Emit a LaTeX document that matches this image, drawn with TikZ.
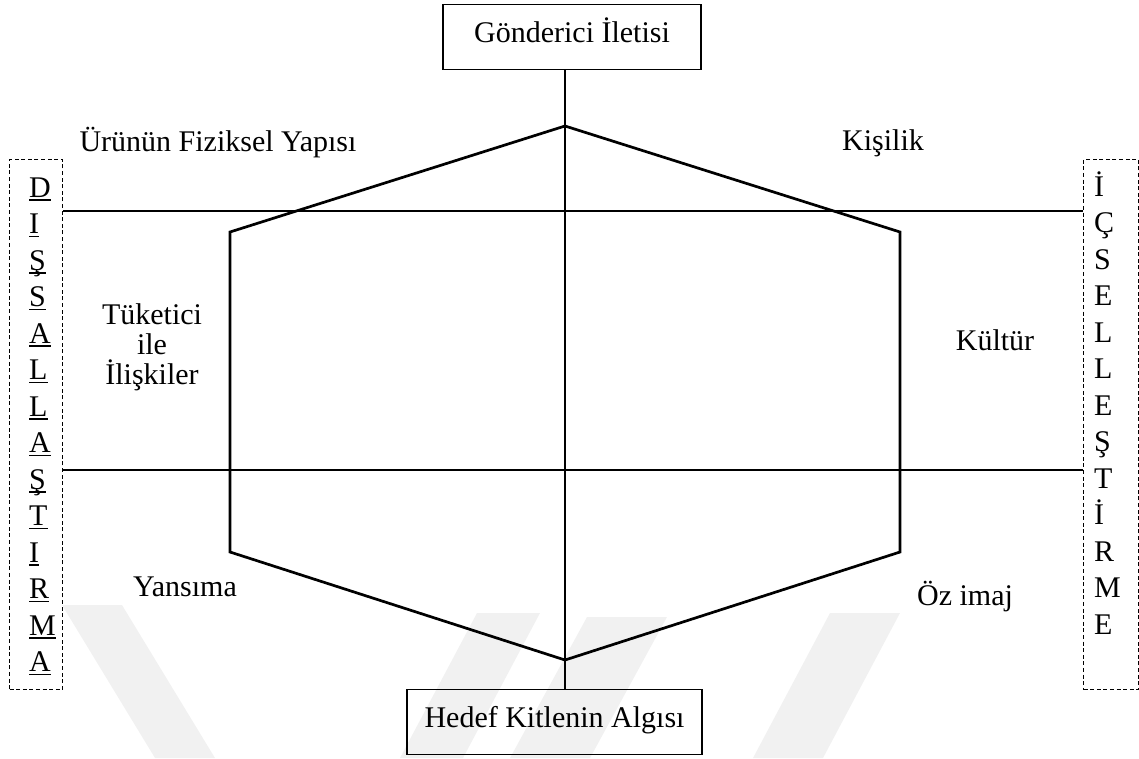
\documentclass[tikz,border=0pt]{standalone}
\usepackage{fontspec}
\setmainfont{Liberation Serif}
\definecolor{wmgray}{RGB}{241,241,241}
\newcommand\lblfont{\fontsize{30}{34}\selectfont}
% underline at a fixed depth below the baseline
\newcommand\uletter[1]{\setbox0\hbox{#1}\rlap{\rule[-3.6pt]{\wd0}{1.4pt}}\box0}
\begin{document}
\begin{tikzpicture}[x=1pt,y=-1pt,
  thinline/.style={line width=1.1pt, draw=black},
  hexline/.style={line width=2.7pt, draw=black, line join=miter},
  axisbar/.style={line width=2.3pt, draw=black},
  boxnode/.style={draw=black, line width=1.1pt, inner sep=0pt,
                  text height=38pt, text depth=27pt, font=\lblfont},
  sidebox/.style={draw=black, line width=1.1pt, dash pattern=on 4pt off 2.6pt,
                  inner sep=0pt},
  lbl/.style={font=\lblfont, inner sep=0pt},
  letter/.style={font=\lblfont, inner sep=0pt, anchor=base west},
  wband/.style={fill=wmgray, draw=none}]

\useasboundingbox (0,0) rectangle (1139,758);

% faint background stripes
\fill[wband] (62,605) -- (122,605) -- (215,758) -- (155,758) -- cycle;
\fill[wband] (477,613) -- (540,613) -- (463,758) -- (400,758) -- cycle;
\fill[wband] (587,617) -- (667,617) -- (590,758) -- (510,758) -- cycle;
\fill[wband] (830,613) -- (900,613) -- (823,758) -- (753,758) -- cycle;

% top and bottom boxes
\node[boxnode, minimum width=258pt, anchor=north] (sender) at (572,4) {Gönderici İletisi};
\node[boxnode, minimum width=295pt, anchor=north] (receiver) at (554.5,689) {Hedef Kitlenin Algısı};

% side boxes
\node[sidebox, minimum width=53pt, minimum height=530pt, anchor=north west] (outer) at (9,159) {};
\node[sidebox, minimum width=55pt, minimum height=530pt, anchor=north west] (inner) at (1083,159) {};

% hexagon corners
\coordinate (ht)  at (565,126);
\coordinate (hur) at (900,232);
\coordinate (hlr) at (900,552);
\coordinate (hb)  at (565,660);
\coordinate (hll) at (230,552);
\coordinate (hul) at (230,232);

% axes
\draw[thinline] (ht |- sender.south) -- (ht |- receiver.north);
\coordinate (upper) at (0,211);
\coordinate (lower) at (0,470);
\draw[thinline] (outer.east |- upper) -- (inner.west |- upper);
\draw[thinline] (outer.east |- lower) -- (inner.west |- lower);

% short bold pieces on the vertical axis
\coordinate (b1) at (565,213);
\coordinate (b2) at (565,255);
\coordinate (b3) at (565,470);
\coordinate (b4) at (565,548);
\draw[axisbar] (b1) -- (b2);
\draw[axisbar] (b3) -- (b4);

% hexagon
\draw[hexline] (ht) -- (hur) -- (hlr) -- (hb) -- (hll) -- (hul) -- cycle;

% labels
\node[lbl] (phys) at (218,143) {Ürünün Fiziksel Yapısı};
\node[lbl] (pers) at (883,143) {Kişilik};
\node[lbl, align=center, font=\fontsize{30}{30}\selectfont] (rel) at (152,347) {Tüketici\\ile\\İlişkiler};
\node[lbl] (cult) at (995,340) {Kültür};
\node[lbl] (refl) at (185,587) {Yansıma};
\node[lbl] (self) at (965,597) {Öz imaj};

% vertical words
\foreach \ch [count=\i] in {D,I,Ş,S,A,L,L,A,Ş,T,I,R,M,A}
  \node[letter] (ext\i) at (29,{197+(\i-1)*36.5}) {\uletter{\ch}};
\foreach \ch [count=\i] in {İ,Ç,S,E,L,L,E,Ş,T,İ,R,M,E}
  \node[letter] (int\i) at (1094,{196+(\i-1)*36.5}) {\ch};

\end{tikzpicture}
\end{document}
